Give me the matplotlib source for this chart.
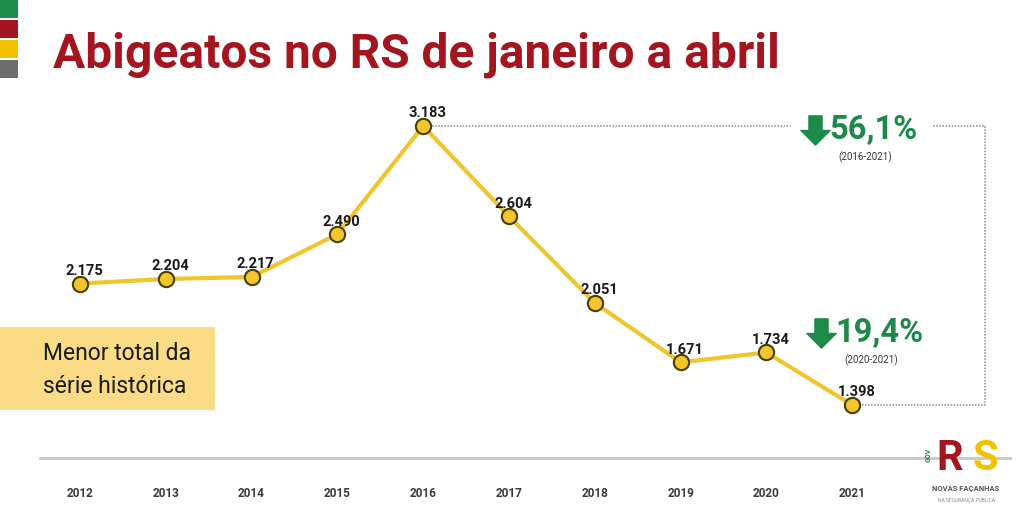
#! /usr/bin/env python
# Abigeatos no RS de janeiro a abril - line chart
import matplotlib
matplotlib.use("Agg")
import matplotlib.pyplot as plt
from matplotlib.path import Path
from matplotlib.patches import Rectangle

# data
anos = ['2012', '2013', '2014', '2015', '2016', '2017', '2018', '2019', '2020', '2021']
abigeatos = [2175, 2204, 2217, 2490, 3183, 2604, 2051, 1671, 1734, 1398]
rotulos = ['2.175', '2.204', '2.217', '2.490', '3.183', '2.604', '2.051', '1.671', '1.734', '1.398']
queda_total = '56,1%'
periodo_total = '(2016-2021)'
queda_ano = '19,4%'
periodo_ano = '(2020-2021)'

# colours
amarelo = '#F0C52E'
verde = '#1E8A4A'
vermelho = '#A3161F'
cinza = '#8A8A8A'

plt.rcParams['font.family'] = ['Roboto', 'DejaVu Sans']

fig = plt.figure(figsize=(10.24, 5.24), dpi=100)
fig.patch.set_facecolor('white')

# little colour flag at top left
for i, c in enumerate(['#1E8A4A', '#A3161F', '#F2C200', '#6E6E6E']):
    fig.patches.append(Rectangle((0, 1 - (i * 20 + 18) / 524), 18 / 1024, 18 / 524,
                                 transform=fig.transFigure, color=c, lw=0))

fig.text(53 / 1024, 1 - 55 / 524, 'Abigeatos no RS de janeiro a abril', color=vermelho,
         fontsize=34.5, fontweight='bold', va='center', ha='left')

ax = fig.add_axes([40 / 1024, 66 / 524, 970 / 1024, 358 / 524])
x = list(range(len(anos)))
ax.set_xlim(-0.466, 10.839)
ax.set_ylim(1059, 3349)

ax.plot(x, abigeatos, color=amarelo, lw=3, zorder=2)
ax.plot(x, abigeatos, 'o', ms=11, mfc=amarelo, mec='#4a3d00', mew=1.5, zorder=3)

for xi, yi, lab in zip(x, abigeatos, rotulos):
    ax.annotate(lab, (xi, yi), xytext=(3, 4), textcoords='offset points',
                ha='center', va='bottom', fontsize=10.5, fontweight='bold', color='#1a1a1a', zorder=4)

# dotted bracket from 2016 peak to 2021
i_max = abigeatos.index(max(abigeatos))
i_fim = len(anos) - 1
x_dir = 10.55
ax.plot([i_max, x_dir, x_dir, i_fim], [abigeatos[i_max], abigeatos[i_max], abigeatos[i_fim], abigeatos[i_fim]],
        color=cinza, ls=(0, (1, 1)), lw=1.1, zorder=1)

# down arrow marker
seta = Path([(-0.45, 1), (0.45, 1), (0.45, 0), (1, 0), (0, -1), (-1, 0), (-0.45, 0), (-0.45, 1)],
            [Path.MOVETO] + [Path.LINETO] * 6 + [Path.CLOSEPOLY])

def variacao(xa, ya, pct, periodo):
    ax.add_patch(Rectangle((xa - 0.26, ya - 60), 1.63, 120, color='white', zorder=1.5))
    ax.plot([xa + 0.02], [ya], marker=seta, ms=21, color=verde, mec=verde, zorder=5)
    ax.text(xa + 0.18, ya, pct, color=verde, fontsize=23.5, fontweight='bold', va='center', ha='left', zorder=5)
    ax.annotate(periodo, (xa + 0.6, ya), xytext=(0, -20), textcoords='offset points',
                ha='center', va='center', fontsize=7, color='#333333', zorder=5)

variacao(8.55, abigeatos[i_max] - 25, queda_total, periodo_total)
variacao(8.62, 1859, queda_ano, periodo_ano)

# axis styling
for s in ['top', 'right', 'left']:
    ax.spines[s].set_visible(False)
ax.spines['bottom'].set_color('#C8C8C8')
ax.spines['bottom'].set_linewidth(2)
ax.set_yticks([])
ax.set_xticks(x)
ax.set_xticklabels(anos, fontsize=8.5, fontweight='bold', color='#3a3a3a')
ax.tick_params(axis='x', length=0, pad=21)

# highlight box on the left
fig.patches.append(Rectangle((0, 1 - 410 / 524), 215 / 1024, 83 / 524,
                             transform=fig.transFigure, color='#F9DC85', lw=0))
fig.text(43 / 1024, 1 - 370 / 524, 'Menor total da\nsérie histórica', fontsize=16.5,
         color='#1a1a1a', va='center', ha='left', linespacing=1.55)

# logo (simplified)
fig.text(950 / 1024, 1 - 458 / 524, 'R', color=vermelho, fontsize=30, fontweight='bold', ha='center', va='center')
fig.text(985 / 1024, 1 - 458 / 524, 'S', color='#F2C200', fontsize=30, fontweight='bold', ha='center', va='center')
fig.text(929 / 1024, 1 - 455 / 524, 'GOV', color=verde, fontsize=5, fontweight='bold', rotation=90, ha='center', va='center')
fig.text(966 / 1024, 1 - 488 / 524, 'NOVAS FAÇANHAS', color='#555555', fontsize=5.5, fontweight='bold', ha='center', va='center')
fig.text(966 / 1024, 1 - 500 / 524, 'NA SEGURANÇA PÚBLICA', color='#888888', fontsize=3.5, ha='center', va='center')

fig.savefig('out.png', dpi=100, facecolor='white')
